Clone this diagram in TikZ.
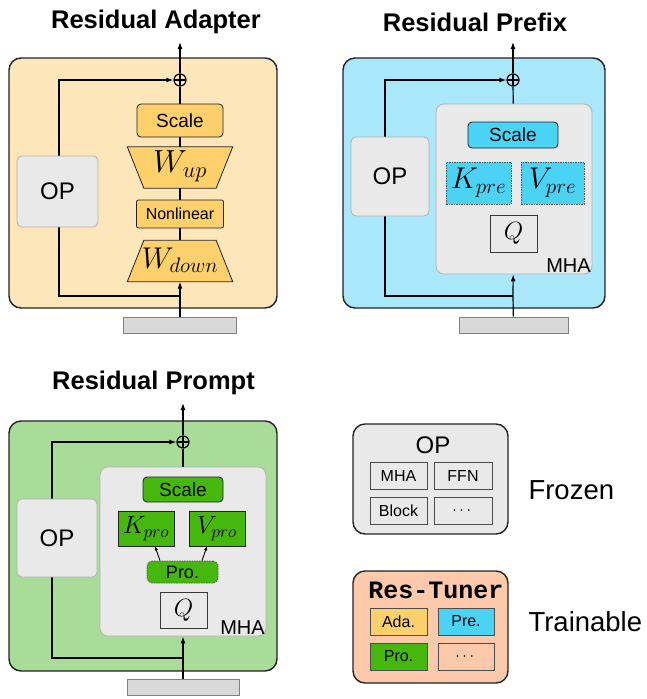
\documentclass[tikz,border=0pt]{standalone}
\usepackage{fix-cm}
\usepackage[no-math]{fontspec}
\setmainfont{Liberation Sans}
\setmonofont{Liberation Mono}
\usepackage{amsmath}
\usetikzlibrary{arrows.meta,calc}

\definecolor{adaback}{HTML}{FDE6B9}
\definecolor{adafill}{HTML}{FDD06B}
\definecolor{preback}{HTML}{A9E7FA}
\definecolor{prefill}{HTML}{4BD3F6}
\definecolor{proback}{HTML}{A9DC98}
\definecolor{profill}{HTML}{45B70D}
\definecolor{opgray}{HTML}{E9E9E9}
\definecolor{bargray}{HTML}{D9D9D9}
\definecolor{tunerback}{HTML}{FCC9AB}
\definecolor{edge}{HTML}{222222}

\begin{document}
\begin{tikzpicture}[x=1pt,y=-1pt,
  panel/.style={draw=edge,line width=1.4pt,rounded corners=12pt},
  title/.style={font=\fontsize{25.5}{28}\selectfont\bfseries},
  line/.style={line width=1.2pt},
  arr/.style={line,-{Latex[length=7pt,width=5pt]}},
  plus/.style={circle,draw,line width=1.2pt,minimum size=12pt,inner sep=0pt,
    path picture={\draw[line width=1.2pt]
      (path picture bounding box.west) -- (path picture bounding box.east)
      (path picture bounding box.north) -- (path picture bounding box.south);}},
  box/.style={draw=edge,line width=0.8pt,rounded corners=4pt,inner sep=0pt,
    font=\fontsize{19}{22}\selectfont},
  kvbox/.style={draw=gray!70!black,line width=0.7pt,dash pattern=on 1.5pt off 1pt,
    inner sep=0pt,font=\fontsize{30}{32}\selectfont},
  trapslot/.style={minimum width=105,minimum height=41,inner sep=0pt},
  trapline/.style={draw=edge,fill=adafill,line width=0.8pt},
  opbox/.style={draw=gray!60,fill=opgray,line width=0.8pt,rounded corners=5pt,
    inner sep=0pt,font=\fontsize{24}{26}\selectfont},
  mha/.style={draw=gray!60,fill=opgray,line width=0.8pt,rounded corners=8pt,inner sep=0pt},
  mhalabel/.style={anchor=south east,inner sep=1.5pt,font=\fontsize{20}{21}\selectfont},
  qbox/.style={draw=gray!45!black,fill=opgray,line width=0.8pt,inner sep=0pt,
    minimum width=47,minimum height=37,font=\fontsize{25}{27}\selectfont},
  inbar/.style={draw=gray,fill=bargray,line width=0.8pt,minimum height=16,inner sep=0pt},
  legend/.style={draw=edge,line width=1.4pt,rounded corners=12pt,
    minimum width=155,inner sep=0pt},
  cell/.style={draw=gray!60!black,line width=0.8pt,minimum width=57,minimum height=27,
    inner sep=0pt,font=\fontsize{16}{18}\selectfont},
  side/.style={anchor=west,font=\fontsize{27.5}{30}\selectfont}]

\useasboundingbox (0,0) rectangle (646,699);

% Residual Adapter
\filldraw[panel,fill=adaback] (9,58) rectangle (277,308);
\node[title] (ada-title) at (156,22) {Residual Adapter};
\node[inbar,minimum width=113] (ada-in) at (180,325) {};
\node[plus] (ada-plus) at (180,80) {};
\coordinate (ada-out) at (180,42);
\coordinate (ada-j) at (180,296);
\node[box,fill=adafill,minimum width=86,minimum height=33] (ada-scale) at (180,120.5) {Scale};
\node[trapslot] (ada-up) at (180,167.5) {};
\filldraw[trapline] (ada-up.north west) -- (ada-up.north east)
  -- ($(ada-up.south east)+(-16.5,0)$) -- ($(ada-up.south west)+(16.5,0)$) -- cycle;
\node[font=\fontsize{32}{34}\selectfont] (ada-up-text) at (180,166) {$W_{up}$};
\node[box,fill=adafill,rounded corners=2pt,minimum width=87,minimum height=28,
  font=\fontsize{16}{18}\selectfont] (ada-nl) at (180,214) {Nonlinear};
\node[trapslot] (ada-down) at (180,261) {};
\filldraw[trapline] (ada-down.south west) -- (ada-down.south east)
  -- ($(ada-down.north east)+(-16.5,0)$) -- ($(ada-down.north west)+(16.5,0)$) -- cycle;
\node[font=\fontsize{30}{32}\selectfont] (ada-down-text) at (180,260) {$W_{down}$};
\draw[arr] (ada-j) -- ++(-121,0) |- (ada-plus);
\node[opbox,minimum width=81,minimum height=71] (ada-op) at (57.5,191.5) {OP};
\draw[line] (ada-in) -- (ada-j);
\draw[arr] (ada-j) -- (ada-down);
\draw[line] (ada-down) -- (ada-nl) (ada-nl) -- (ada-up) (ada-up) -- (ada-scale) (ada-scale) -- (ada-plus);
\draw[arr] (ada-plus) -- (ada-out);

% Residual Prefix
\filldraw[panel,fill=preback] (343,58) rectangle (605,308);
\node[title] (pre-title) at (475,22) {Residual Prefix};
\node[inbar,minimum width=109] (pre-in) at (513.5,325) {};
\node[plus] (pre-plus) at (513,80) {};
\coordinate (pre-out) at (513,42);
\coordinate (pre-j) at (513,296);
\draw[arr] (pre-j) -- ++(-128,0) |- (pre-plus);
\node[opbox,minimum width=78,minimum height=79] (pre-op) at (390,176.5) {OP};
\node[mha,minimum width=156,minimum height=170] (pre-mha) at (514,189) {};
\node[mhalabel] (pre-mha-label) at (pre-mha.south east) {MHA};
\node[box,fill=prefill,minimum width=90,minimum height=26] (pre-scale) at (513,135) {Scale};
\node[kvbox,fill=prefill,minimum width=65,minimum height=42] (pre-k) at (478.5,183) {$K_{pre}$};
\node[kvbox,fill=prefill,minimum width=63,minimum height=42] (pre-v) at (552.5,183) {$V_{pre}$};
\node[qbox] (pre-q) at (513.5,233.5) {$Q$};
\draw[line] (pre-in) -- (pre-j);
\draw[arr] (pre-j) -- (pre-mha);
\draw[line] (pre-mha) -- (pre-plus);
\draw[arr] (pre-plus) -- (pre-out);

% Residual Prompt
\filldraw[panel,fill=proback] (9,421) rectangle (277,671);
\node[title] (pro-title) at (153.5,383) {Residual Prompt};
\node[inbar,minimum width=112] (pro-in) at (183,687) {};
\node[plus] (pro-plus) at (183,442) {};
\coordinate (pro-out) at (183,403);
\coordinate (pro-j) at (183,658);
\draw[arr] (pro-j) -- ++(-131,0) |- (pro-plus);
\node[opbox,minimum width=80,minimum height=78] (pro-op) at (57,538) {OP};
\node[mha,minimum width=166,minimum height=169] (pro-mha) at (183,551.5) {};
\node[mhalabel] (pro-mha-label) at (pro-mha.south east) {MHA};
\node[box,fill=profill,minimum width=80,minimum height=25] (pro-scale) at (183,489.5) {Scale};
\node[box,fill=profill,rounded corners=0pt,minimum width=56,minimum height=35,
  font=\fontsize{25}{27}\selectfont] (pro-k) at (146,528.5) {$K_{pro}$};
\node[box,fill=profill,rounded corners=0pt,minimum width=56,minimum height=35,
  font=\fontsize{25}{27}\selectfont] (pro-v) at (217,528.5) {$V_{pro}$};
\node[kvbox,fill=profill,rounded corners=5pt,minimum width=71,minimum height=22,
  font=\fontsize{18}{20}\selectfont] (pro-p) at (182.5,572) {Pro.};
\node[qbox,minimum height=36] (pro-q) at (183.5,610) {$Q$};
\draw[-{Latex[length=4pt,width=3.5pt]},line width=0.9pt] ($(pro-p.north)+(-22.5,0)$) -- ($(pro-k.south)+(9,0)$);
\draw[-{Latex[length=4pt,width=3.5pt]},line width=0.9pt] ($(pro-p.north)+(19.5,0)$) -- ($(pro-v.south)+(-10,0)$);
\draw[line] (pro-in) -- (pro-j);
\draw[arr] (pro-j) -- (pro-mha);
\draw[line] (pro-mha) -- (pro-plus);
\draw[arr] (pro-plus) -- (pro-out);

% legend
\node[legend,fill=opgray,minimum height=110] (leg-op) at (430.5,479) {};
\node[font=\fontsize{24}{26}\selectfont] (leg-op-title) at (433,445) {OP};
\node[cell] (leg-mha) at (398.5,475.5) {MHA};
\node[cell,minimum width=58] (leg-ffn) at (463,475.5) {FFN};
\node[cell] (leg-block) at (398.5,510.5) {Block};
\node[cell,minimum width=58] (leg-more) at (463,510.5) {$\cdots$};
\node[side] (leg-frozen) at (525,490) {Frozen};

\node[legend,fill=tunerback,minimum height=112] (leg-tuner) at (430.5,627) {};
\node[font=\fontsize{25}{27}\selectfont\ttfamily\bfseries] (leg-tuner-title) at (436,590) {Res-Tuner};
\node[cell,fill=adafill] (leg-ada) at (398.5,621.5) {Ada.};
\node[cell,fill=prefill,minimum width=56] (leg-pre) at (466,621.5) {Pre.};
\node[cell,fill=profill] (leg-pro) at (398.5,656.5) {Pro.};
\node[cell,minimum width=56] (leg-etc) at (466,656.5) {$\cdots$};
\node[side] (leg-trainable) at (525,622) {Trainable};
\end{tikzpicture}
\end{document}
